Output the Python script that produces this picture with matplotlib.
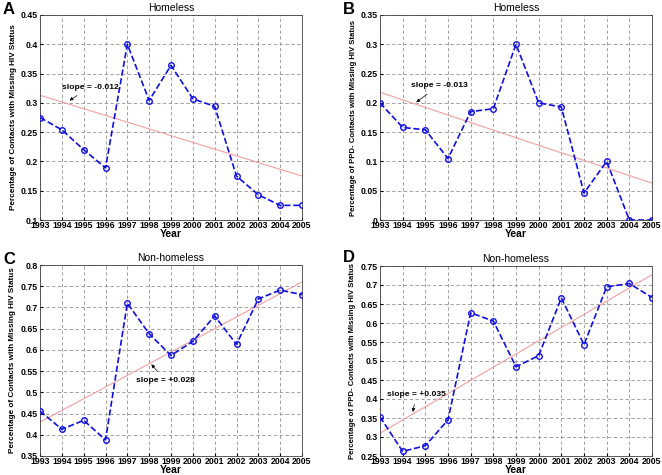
import numpy as np
import matplotlib.pyplot as plt
import matplotlib as mpl

mpl.rcParams['font.family'] = ['Liberation Sans', 'DejaVu Sans']

years = np.arange(1993, 2006)

# Percentage of contacts with missing HIV status
homeless_all = [0.275, 0.254, 0.220, 0.189, 0.400, 0.304, 0.364, 0.307, 0.294, 0.175, 0.143, 0.125, 0.125]
homeless_ppd = [0.200, 0.158, 0.154, 0.105, 0.185, 0.190, 0.300, 0.200, 0.193, 0.046, 0.100, 0.0, 0.0]
nonhomeless_all = [0.456, 0.413, 0.434, 0.388, 0.710, 0.638, 0.587, 0.620, 0.680, 0.613, 0.720, 0.741, 0.730]
nonhomeless_ppd = [0.353, 0.262, 0.277, 0.345, 0.627, 0.605, 0.485, 0.514, 0.666, 0.543, 0.695, 0.704, 0.667]

# trend line end values (1993, 2005)
trend_a = [0.313, 0.175]
trend_b = [0.218, 0.063]
trend_c = [0.430, 0.760]
trend_d = [0.310, 0.727]

slope_labels = ['slope = -0.012', 'slope = -0.013', 'slope = +0.028', 'slope = +0.035']

ylabel_all = 'Percentage of Contacts with Missing HIV Status'
ylabel_ppd = 'Percentage of PPD- Contacts with Missing HIV Status'

fig = plt.figure(figsize=(6.62, 4.75), dpi=100)
W, H = 662, 475

def add_ax(l, t, r, b):
    return fig.add_axes([l / W, 1 - b / H, (r - l) / W, (b - t) / H])

panels = [
    # box, data, trend, ylim, yticks, title, ylabel, letter, letter pos (px), text pos, arrow tip
    ((40, 15, 302, 220), homeless_all, trend_a, (0.1, 0.45), np.arange(0.1, 0.451, 0.05), 'Homeless', ylabel_all,
     'A', (3, 10), (1995.3, 0.327), (1994.35, 0.304)),
    ((380, 15, 652, 220), homeless_ppd, trend_b, (0, 0.35), np.arange(0, 0.351, 0.05), 'Homeless', ylabel_ppd,
     'B', (343, 10), (1995.6, 0.23), (1994.6, 0.201)),
    ((40, 265, 302, 456), nonhomeless_all, trend_c, (0.35, 0.8), np.arange(0.35, 0.801, 0.05), 'Non-homeless', ylabel_all,
     'C', (3, 259), (1998.75, 0.527), (1998.1, 0.566)),
    ((380, 266, 652, 456), nonhomeless_ppd, trend_d, (0.25, 0.75), np.arange(0.25, 0.751, 0.05), 'Non-homeless', ylabel_ppd,
     'D', (343, 258), (1994.6, 0.413), (1994.45, 0.366)),
]

for i, (box, vals, trend, ylim, yticks, title, ylabel, letter, lpos, tpos, tip) in enumerate(panels):
    ax = add_ax(*box)
    ax.plot([years[0], years[-1]], trend, color='#f0a0a0', lw=0.8, zorder=2)
    ax.plot(years, vals, color='#1010e0', ls='--', lw=1.2, marker='o', ms=4,
            mfc='none', mec='#1010e0', mew=1.0, zorder=3)
    ax.set_xlim(1993, 2005)
    ax.set_ylim(*ylim)
    ax.set_xticks(years)
    ax.set_yticks(yticks)
    ax.set_yticklabels([f'{v:g}' for v in np.round(yticks, 2)])
    ax.tick_params(labelsize=6.3, length=2, direction='in', pad=1.5)
    ax.tick_params(axis='x', pad=1)
    for lab in ax.get_xticklabels() + ax.get_yticklabels():
        lab.set_fontweight('bold')
    ax.grid(True, color='#909090', ls=(0, (4, 3)), lw=0.6)
    for s in ax.spines.values():
        s.set_linewidth(0.6)
        s.set_color('#404040')
    ax.set_title(title, fontsize=7.5, pad=3)
    ax.set_xlabel('Year', fontsize=7.5, fontweight='bold', labelpad=-1)
    ylsize = 5.9 if ylabel == ylabel_all else 5.6
    ax.set_ylabel(ylabel, fontsize=ylsize, fontweight='bold', labelpad=3)
    ax.annotate(slope_labels[i], xy=tip, xytext=tpos, ha='center', va='center',
                fontsize=6.1, fontweight='bold',
                arrowprops=dict(arrowstyle='-|>', lw=0.5, color='black',
                                mutation_scale=5, shrinkA=3, shrinkB=0))
    fig.text(lpos[0] / W, 1 - lpos[1] / H, letter,
             fontsize=12, fontweight='bold', va='center', ha='left')

fig.savefig('out.png', dpi=100)
